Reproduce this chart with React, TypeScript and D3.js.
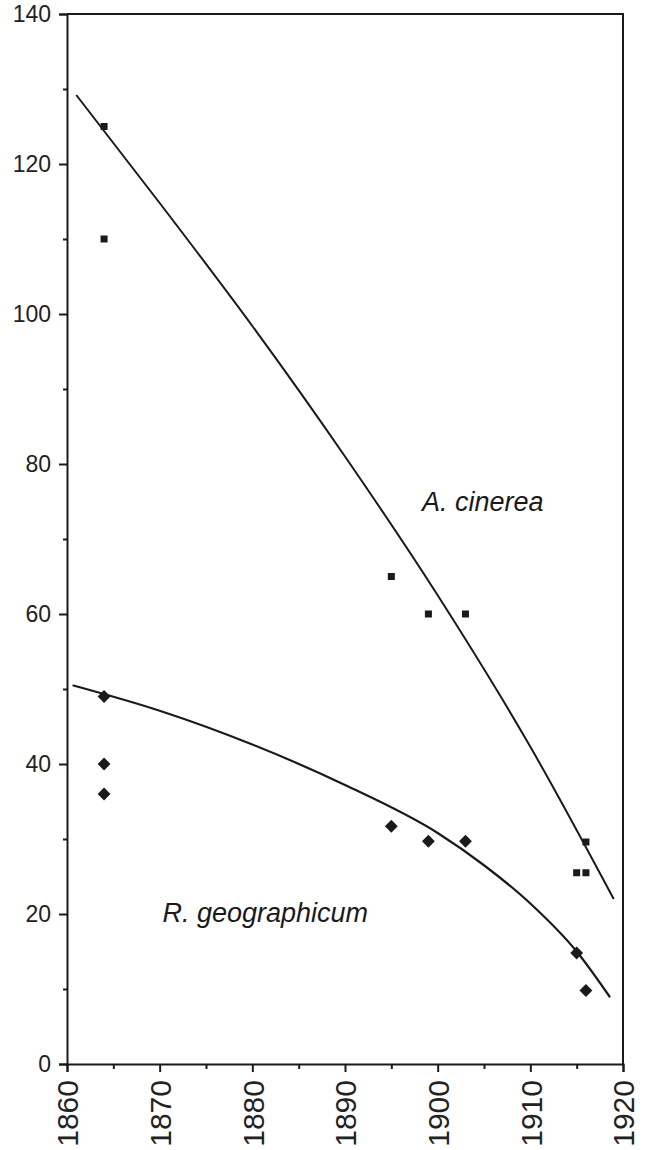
import React, { useEffect, useRef } from 'react';
import * as d3 from 'd3';

const W = 648
const H = 1150
const margin = { top: 14, right: 25, bottom: 86, left: 67 }
const width = W - margin.left - margin.right
const height = H - margin.top - margin.bottom

// A. cinerea observations (square markers)
const cinereaYears = [1864, 1864, 1895, 1899, 1903, 1915, 1916, 1916]
const cinereaValues = [125, 110, 65, 60, 60, 25.5, 25.5, 29.6]
// R. geographicum observations (diamond markers)
const geoYears = [1864, 1864, 1864, 1895, 1899, 1903, 1915, 1916]
const geoValues = [49, 40, 36, 31.7, 29.7, 29.7, 14.8, 9.8]

// fitted curves
const cinereaFitYears = [1861, 1870, 1880, 1890, 1900, 1910, 1919]
const cinereaFitValues = [129.2, 114.8, 98.4, 81, 62.5, 42.3, 22]
const geoFitYears = [1860.6, 1870, 1880, 1890, 1900, 1905, 1910, 1915, 1918.6]
const geoFitValues = [50.5, 47.1, 42.6, 37.2, 30.8, 26.5, 21.4, 15.0, 8.9]

const yMajor = [0, 20, 40, 60, 80, 100, 120, 140]
const yMinor = [10, 30, 50, 70, 90, 110, 130]
const xMajor = [1860, 1870, 1880, 1890, 1900, 1910, 1920]
const xMinor = [1865, 1875, 1885, 1895, 1905, 1915]

const font = '"Liberation Sans", Arial, Helvetica, sans-serif'
const ink = '#1a1a1a'

const Chart = () => {
  const ref = useRef(null)

  useEffect(() => {
    if (!ref.current) return
    const root = d3.select(ref.current)
    root.selectAll('*').remove()
    const svg = root.append('g').attr('transform', `translate(${margin.left},${margin.top})`)

    const x = d3.scaleLinear().domain([1860, 1920]).range([0, width])
    const y = d3.scaleLinear().domain([0, 140]).range([height, 0])

    // frame top + right
    svg.append('path')
      .attr('d', `M0,0H${width}V${height}`)
      .attr('fill', 'none')
      .attr('stroke', ink)
      .attr('stroke-width', 2)

    // y axis
    const yAxis = svg.append('g')
      .call(d3.axisLeft(y).tickValues(yMajor).tickSize(8).tickPadding(8).tickFormat(d3.format('d')))
    svg.append('g')
      .call(d3.axisLeft(y).tickValues(yMinor).tickSize(4).tickFormat(() => ''))
      .select('.domain').remove()
    yAxis.selectAll('text')
      .attr('font-family', font)
      .attr('font-size', 23)
      .attr('fill', '#222')

    // x axis
    const xAxis = svg.append('g')
      .attr('transform', `translate(0,${height})`)
      .call(d3.axisBottom(x).tickValues(xMajor).tickSize(8).tickFormat(d3.format('d')))
    svg.append('g')
      .attr('transform', `translate(0,${height})`)
      .call(d3.axisBottom(x).tickValues(xMinor).tickSize(5).tickFormat(() => ''))
      .select('.domain').remove()
    xAxis.selectAll('text')
      .attr('transform', 'rotate(-90)')
      .attr('text-anchor', 'end')
      .attr('x', -16)
      .attr('y', 0)
      .attr('dy', '0.36em')
      .attr('font-family', font)
      .attr('font-size', 30)
      .attr('fill', '#222')

    svg.selectAll('.domain, .tick line')
      .attr('stroke', ink)
      .attr('stroke-width', 2)

    // fitted lines
    const line = d3.line().x(d => x(d[0])).y(d => y(d[1])).curve(d3.curveMonotoneX)
    svg.append('path')
      .datum(d3.zip(cinereaFitYears, cinereaFitValues))
      .attr('d', line)
      .attr('fill', 'none')
      .attr('stroke', ink)
      .attr('stroke-width', 2)
    svg.append('path')
      .datum(d3.zip(geoFitYears, geoFitValues))
      .attr('d', line)
      .attr('fill', 'none')
      .attr('stroke', ink)
      .attr('stroke-width', 2.2)

    // squares
    svg.selectAll('.sq')
      .data(d3.zip(cinereaYears, cinereaValues))
      .enter()
      .append('rect')
      .attr('class', 'sq')
      .attr('x', d => x(d[0]) - 3.5)
      .attr('y', d => y(d[1]) - 3.5)
      .attr('width', 7)
      .attr('height', 7)
      .attr('fill', ink)

    // diamonds
    const diamond = d3.symbol().type(d3.symbolDiamond2).size(105)
    svg.selectAll('.dm')
      .data(d3.zip(geoYears, geoValues))
      .enter()
      .append('path')
      .attr('class', 'dm')
      .attr('transform', d => `translate(${x(d[0])},${y(d[1])})`)
      .attr('d', diamond)
      .attr('fill', ink)

    // species labels
    svg.append('text')
      .attr('x', x(1870.3))
      .attr('y', y(18.9))
      .attr('font-family', font)
      .attr('font-style', 'italic')
      .attr('font-size', 27)
      .attr('fill', ink)
      .text('R. geographicum')
    svg.append('text')
      .attr('x', x(1898.3))
      .attr('y', y(73.7))
      .attr('font-family', font)
      .attr('font-style', 'italic')
      .attr('font-size', 27)
      .attr('fill', ink)
      .text('A. cinerea')
  }, [])

  return (
    <svg
      width={W}
      height={H}
      ref={ref}
      style={{ position: 'absolute', left: 0, top: 0, background: '#fff' }}
    ></svg>
  )
}

export default function App() {
  return <Chart />
}
